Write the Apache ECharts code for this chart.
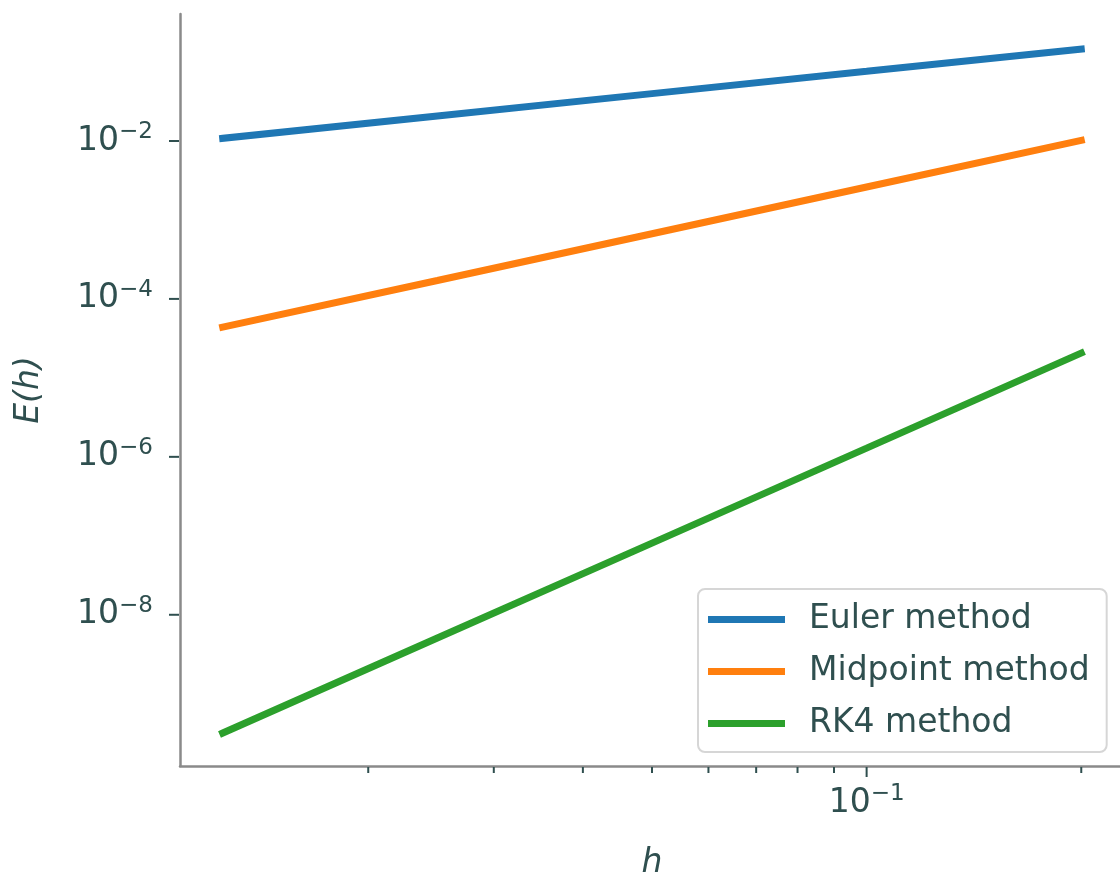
<!DOCTYPE html>
<html>
<head>
<meta charset="utf-8">
<title>E(h) convergence</title>
<script src="https://cdn.jsdelivr.net/npm/echarts@6/dist/echarts.min.js"></script>
<style>
  html, body { margin: 0; padding: 0; background: #ffffff; }
  #chart { width: 1120px; height: 876px; }
</style>
</head>
<body>
<div id="chart"></div>
<script>
// Step sizes and global errors of the three integrators
const hValues = [0.0125, 0.025, 0.05, 0.1, 0.2];
const eulerErr = [0.0108, 0.0207, 0.0398, 0.0762, 0.146];
const midpointErr = [4.39e-5, 1.71e-4, 6.68e-4, 2.61e-3, 0.0102];
const rk4Err = [3.18e-10, 5.07e-9, 8.09e-8, 1.29e-6, 2.06e-5];

const seriesNames = ['Euler method', 'Midpoint method', 'RK4 method'];
const seriesColors = ['#1f77b4', '#ff7f0e', '#2ca02c'];

// Tick positions (log axes)
const xMajorTicks = [0.1];
const xMinorTicks = [0.02, 0.03, 0.04, 0.05, 0.06, 0.07, 0.08, 0.09, 0.2];
const yMajorTicks = [1e-2, 1e-4, 1e-6, 1e-8];

// Axis limits
const xMin = 0.01089, xMax = 0.2296;
const yMin = 1.216e-10, yMax = 0.4055;

const FONT = 'DejaVu Sans';
const FS = 33;
const INK = '#2f4f4f';
const SPINE = '#8a8a8a';

function pow10Label(v, keep) {
  const e = Math.log10(v);
  const r = Math.round(e);
  if (Math.abs(e - r) > 1e-6 || !keep(r)) return '';
  return '{base|10}{sup|\u2212' + Math.abs(r) + '}';
}

const richLabel = {
  base: { fontFamily: FONT, fontSize: FS, color: INK, lineHeight: 42 },
  sup: { fontFamily: FONT, fontSize: 23, color: INK, lineHeight: 25, padding: [0, 0, 17, 0] }
};

function toPairs(ys) { return hValues.map((h, i) => [h, ys[i]]); }

function lineSeries(name, ys, color) {
  return {
    type: 'line', name: name, data: toPairs(ys),
    showSymbol: false, symbol: 'none', color: color,
    lineStyle: { width: 7, color: color, cap: 'square' },
    z: 3
  };
}

// Tick marks drawn just outside the plotting area through the axis scales
function tickSeries(axis, values, len) {
  return {
    type: 'custom', silent: true, clip: false, z: 6,
    data: values.map(v => axis === 'x' ? [v, yMin] : [xMin, v]),
    renderItem: function (params, api) {
      const cs = params.coordSys;
      const p = api.coord([api.value(0), api.value(1)]);
      let shape;
      if (axis === 'x') {
        const y = cs.y + cs.height + 1;
        shape = { x1: p[0], y1: y, x2: p[0], y2: y + len };
      } else {
        const x = cs.x - 1;
        shape = { x1: x, y1: p[1], x2: x - len, y2: p[1] };
      }
      return { type: 'line', shape: shape, style: { stroke: INK, lineWidth: 2 } };
    }
  };
}

const chart = echarts.init(document.getElementById('chart'), null, { renderer: 'canvas' });

chart.setOption({
  animation: false,
  backgroundColor: '#ffffff',
  grid: { left: 180, width: 944, top: 14, height: 752, containLabel: false, outerBoundsMode: 'none' },
  xAxis: {
    type: 'log', logBase: 10, min: xMin, max: xMax,
    axisLine: { show: true, onZero: false, lineStyle: { color: SPINE, width: 2.5 } },
    axisTick: { show: false },
    minorTick: { show: false },
    splitLine: { show: false },
    axisLabel: {
      margin: 16,
      formatter: v => pow10Label(v, r => xMajorTicks.some(t => Math.abs(Math.log10(t) - r) < 1e-6)),
      rich: richLabel
    }
  },
  yAxis: {
    type: 'log', logBase: 10, min: yMin, max: yMax,
    axisLine: { show: true, onZero: false, lineStyle: { color: SPINE, width: 2.5 } },
    axisTick: { show: false },
    minorTick: { show: false },
    splitLine: { show: false },
    axisLabel: {
      margin: 27,
      formatter: v => pow10Label(v, r => yMajorTicks.some(t => Math.abs(Math.log10(t) - r) < 1e-6)),
      rich: richLabel
    }
  },
  legend: {
    orient: 'vertical', left: 698, top: 589,
    data: seriesNames.map(n => ({ name: n, icon: 'rect' })),
    itemWidth: 77, itemHeight: 7, itemGap: 13,
    padding: [11, 17, 9, 10],
    backgroundColor: '#ffffff', borderColor: '#d6d6d6', borderWidth: 2, borderRadius: 7,
    textStyle: { fontFamily: FONT, fontSize: FS, color: INK, lineHeight: 37, padding: [2, 0, 0, 19] }
  },
  series: [
    lineSeries(seriesNames[0], eulerErr, seriesColors[0]),
    lineSeries(seriesNames[1], midpointErr, seriesColors[1]),
    lineSeries(seriesNames[2], rk4Err, seriesColors[2]),
    tickSeries('x', xMajorTicks, 10),
    tickSeries('x', xMinorTicks, 6),
    tickSeries('y', yMajorTicks, 10)
  ],
  graphic: [
    {
      type: 'text', x: 29, y: 390, rotation: Math.PI / 2,
      style: { text: 'E(h)', fontFamily: FONT, fontStyle: 'italic', fontSize: FS, fill: INK, align: 'center', verticalAlign: 'middle' }
    },
    {
      type: 'text', x: 652, y: 863,
      style: { text: 'h', fontFamily: FONT, fontStyle: 'italic', fontSize: FS, fill: INK, align: 'center', verticalAlign: 'middle' }
    }
  ]
});
</script>
</body>
</html>
